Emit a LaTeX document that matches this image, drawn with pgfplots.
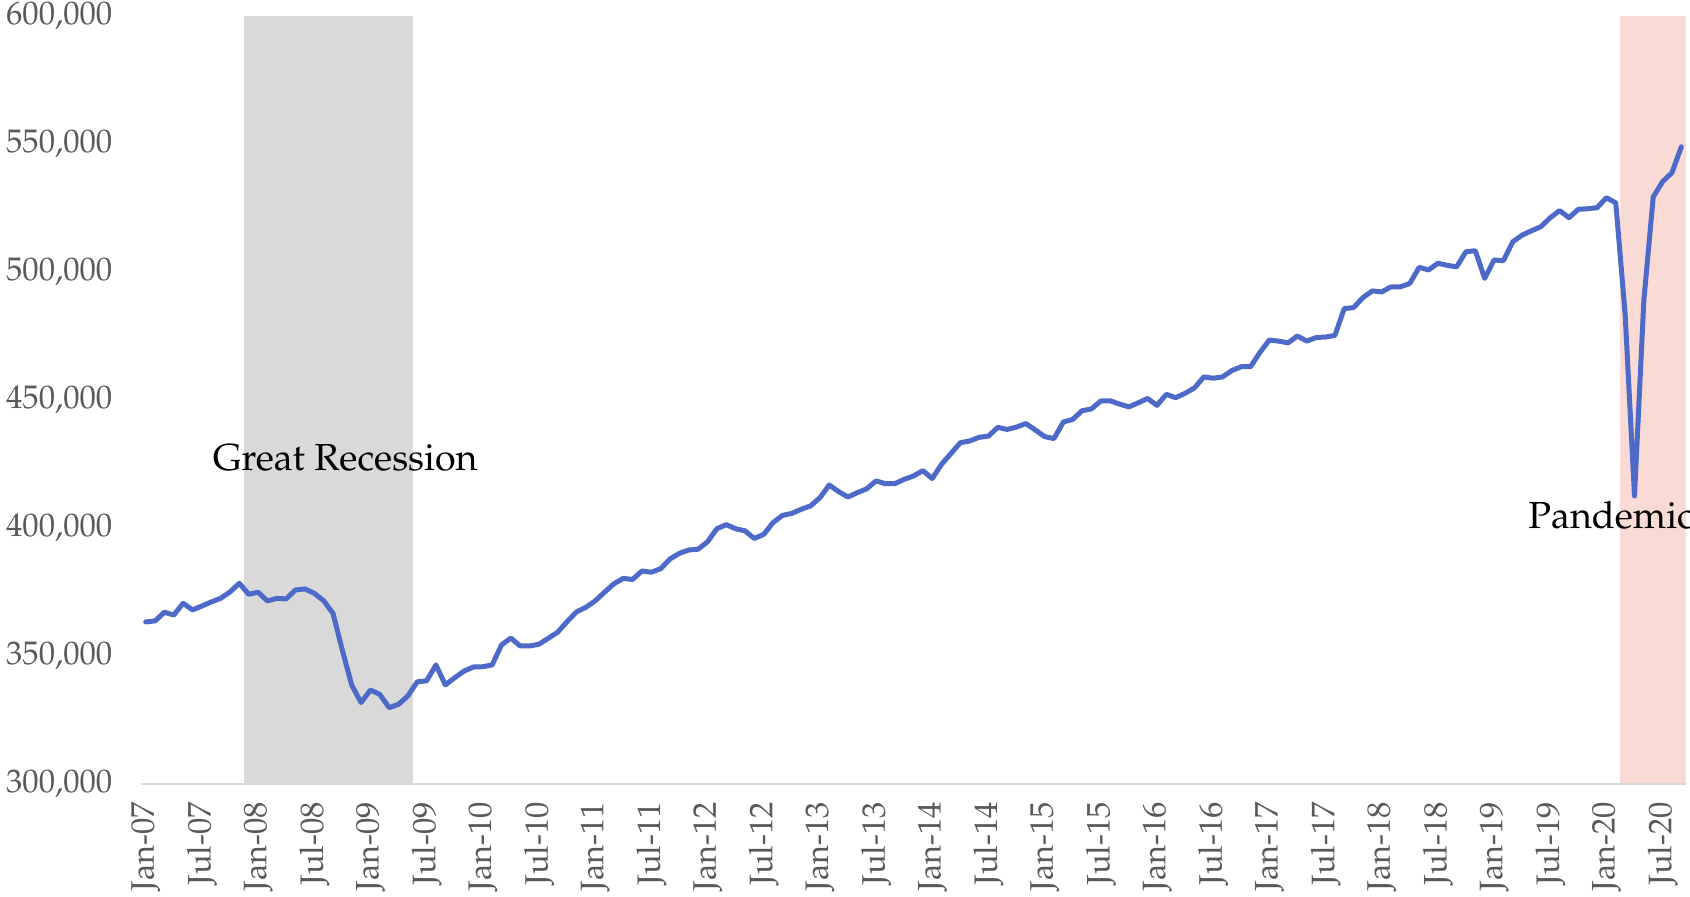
\documentclass[border=0pt]{standalone}
\usepackage[T1]{fontenc}
\usepackage{mathpazo}
\usepackage{pgfplots}
\usepackage{pgfplotstable}
\pgfplotsset{compat=1.18}

\definecolor{salesblue}{RGB}{78,106,200}
\definecolor{recgray}{RGB}{217,217,217}
\definecolor{pandpink}{RGB}{250,218,212}
\definecolor{ticktext}{RGB}{89,89,89}

% monthly values, m = 0 is Jan-07
\pgfplotstableread{
m sales
0 363300
1 363700
2 367100
3 366000
4 370600
5 368000
6 369500
7 371100
8 372500
9 375000
10 378400
11 374100
12 374900
13 371500
14 372500
15 372300
16 375800
17 376200
18 374500
19 371600
20 366700
21 352300
22 338700
23 331800
24 336700
25 335000
26 329800
27 331100
28 334400
29 339900
30 340300
31 346500
32 338700
33 341500
34 344100
35 345700
36 345800
37 346500
38 354300
39 357000
40 353900
41 353900
42 354600
43 356900
44 359300
45 363400
46 367200
47 369000
48 371500
49 374900
50 378200
51 380300
52 379900
53 383200
54 382700
55 384100
56 387900
57 390100
58 391400
59 391700
60 394600
61 399700
62 401300
63 399700
64 398900
65 395900
66 397500
67 402100
68 404900
69 405700
70 407300
71 408600
72 411800
73 416800
74 414200
75 412100
76 413800
77 415300
78 418400
79 417300
80 417300
81 419000
82 420300
83 422400
84 419300
85 424900
86 429100
87 433300
88 434000
89 435400
90 435900
91 439300
92 438500
93 439400
94 440800
95 438300
96 435700
97 434900
98 441400
99 442400
100 445800
101 446500
102 449600
103 449700
104 448400
105 447300
106 448900
107 450600
108 447900
109 452200
110 450900
111 452600
112 454700
113 459000
114 458500
115 459000
116 461500
117 463000
118 463000
119 468600
120 473400
121 473000
122 472300
123 475000
124 473000
125 474400
126 474600
127 475200
128 485700
129 486100
130 490000
131 492600
132 492200
133 494200
134 494200
135 495500
136 501800
137 500800
138 503400
139 502600
140 502000
141 507900
142 508300
143 497500
144 504700
145 504400
146 511800
147 514400
148 516100
149 517700
150 521200
151 524000
152 521200
153 524500
154 524700
155 525100
156 529000
157 527000
158 483500
159 412500
160 489000
161 529300
162 535300
163 538800
164 548900
}\sales

\begin{document}
\begin{tikzpicture}
\begin{axis}[
  name=main,
  scale only axis,
  width=463.5pt, height=230.4pt,
  xmin=-0.5, xmax=164.5,
  ymin=300000, ymax=600000,
  axis line style={draw=none},
  tick style={draw=none},
  clip=false,
  xtick={0,6,...,162},
  xticklabels={Jan-07,Jul-07,Jan-08,Jul-08,Jan-09,Jul-09,Jan-10,Jul-10,Jan-11,Jul-11,Jan-12,Jul-12,Jan-13,Jul-13,Jan-14,Jul-14,Jan-15,Jul-15,Jan-16,Jul-16,Jan-17,Jul-17,Jan-18,Jul-18,Jan-19,Jul-19,Jan-20,Jul-20},
  x tick label style={rotate=90, anchor=east, font=\fontsize{9.8}{10}\selectfont, text=ticktext, inner sep=0pt},
  xticklabel shift=5.2pt,
  ytick={300000,350000,...,600000},
  scaled y ticks=false,
  y tick label style={font=\fontsize{9.8}{10}\selectfont, text=ticktext, anchor=east, inner sep=0pt},
  yticklabel shift=8.4pt,
  /pgf/number format/fixed,
  /pgf/number format/1000 sep={,},
  /pgf/number format/assume math mode=true,
]
\addplot[fill=recgray, draw=none] coordinates {(10.5,300000) (28.5,300000) (28.5,600000) (10.5,600000)} -- cycle;
\addplot[fill=pandpink, draw=none] coordinates {(157.5,300000) (164.5,300000) (164.5,600000) (157.5,600000)} -- cycle;
\draw[recgray, line width=0.7pt] (axis cs:-0.5,300000) -- (axis cs:164.5,300000);
\addplot[salesblue, line width=1.5pt, line join=round, line cap=round, mark=none] table[x=m, y=sales] {\sales};
\node[anchor=west, font=\fontsize{11.3}{12}\selectfont, inner sep=0pt] at (axis cs:7.1,427300) {Great Recession};
\node[anchor=west, font=\fontsize{11.3}{12}\selectfont, inner sep=0pt, overlay] at (axis cs:147.6,405100) {Pandemic};
\end{axis}
\path (main.south west) ++(-42.3pt,-33.9pt) coordinate (bbl);
\path (main.north east) ++(1.2pt,4.8pt) coordinate (btr);
\path (bbl) rectangle (btr);
\end{tikzpicture}
\end{document}
